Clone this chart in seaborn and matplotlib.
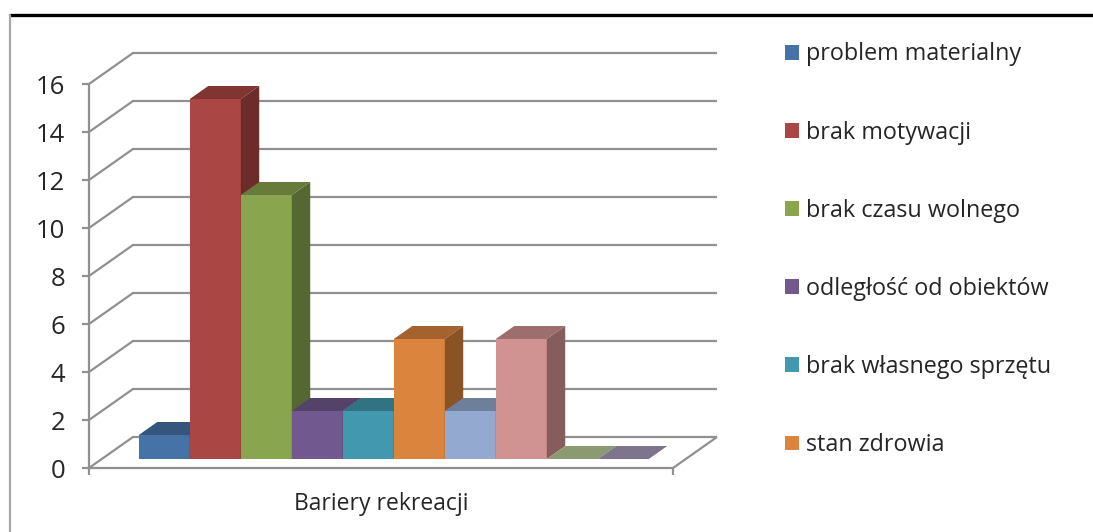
import matplotlib
matplotlib.use("Agg")
import matplotlib.pyplot as plt
import pandas as pd
import seaborn as sns
from matplotlib.colors import to_rgb
from matplotlib.lines import Line2D
from matplotlib.patches import Patch, Polygon
from matplotlib.transforms import Affine2D, IdentityTransform

# Survey answers: barriers to recreation
categories = [
    "problem materialny", "brak motywacji", "brak czasu wolnego",
    "odległość od obiektów", "brak własnego sprzętu", "stan zdrowia",
    "inne 1", "inne 2", "inne 3", "inne 4",
]
values = [1, 15, 11, 2, 2, 5, 2, 5, 0, 0]
colors = ["#4572A7", "#AA4643", "#89A54E", "#71588F", "#4198AF",
          "#DB843D", "#93A9CF", "#D19392", "#B9CD96", "#A99BBD"]
legend_count = 6
axis_label = "Bariery rekreacji"
y_ticks = list(range(0, 17, 2))

W, H = 1093, 532
GRID = "#909090"
TEXT = "#262626"
FONT = "Open Sans"

sns.set_theme(style="white")
plt.rcParams["font.family"] = [FONT, "DejaVu Sans"]

fig = plt.figure(figsize=(W / 100, H / 100), dpi=100, facecolor="white")
ax = fig.add_axes([89 / W, (H - 468) / H, 584 / W, 384 / H])
ax.patch.set_alpha(0)

df = pd.DataFrame({"os": [axis_label] * len(values), "bariera": categories, "n": values})
sns.barplot(data=df, x="os", y="n", hue="bariera", hue_order=categories,
            palette=colors, width=510 / 584, gap=0, saturation=1,
            legend=False, ax=ax, zorder=5)
ax.set_xlim(-0.5, 0.5)
ax.set_ylim(0, 16)


def project(x, y, rise=0.0):
    """Data point pushed back into the scene by `rise` pixels of depth."""
    px, py = ax.transData.transform((x, y))
    return (px + rise * 44 / 31, py + rise)


def scene_line(points):
    ax.add_line(Line2D(*zip(*points), transform=IdentityTransform(), color=GRID,
                       lw=1.6, clip_on=False, zorder=1, solid_capstyle="butt"))


# Back wall grid, side wall and floor edge
x0, x1 = ax.get_xlim()
for tick in y_ticks:
    scene_line([project(x0, tick), project(x0, tick, 31), project(x1, tick, 31)])
scene_line([project(x1, 0), project(x1, 0, 31)])


def shade(color, factor):
    return tuple(c * factor for c in to_rgb(color))


# Bars sit 9 px into the floor and are 13 px deep
BAR_RISE, BAR_DEPTH = 9, 13
bar_shift = Affine2D().translate(BAR_RISE * 44 / 31, BAR_RISE)
for i, (bar, color) in enumerate(zip(ax.patches, colors)):
    bar.set_transform(ax.transData + bar_shift)
    bar.set_clip_on(False)
    bar.set_edgecolor("none")
    bar.set_zorder(10 + i)
    left, right = bar.get_x(), bar.get_x() + bar.get_width()
    top = bar.get_height()
    a, b = BAR_RISE, BAR_RISE + BAR_DEPTH
    ax.add_patch(Polygon(
        [project(left, top, a), project(right, top, a),
         project(right, top, b), project(left, top, b)],
        closed=True, transform=IdentityTransform(), facecolor=shade(color, 0.75),
        edgecolor="none", clip_on=False, zorder=10 + i))
    if top > 0:
        ax.add_patch(Polygon(
            [project(right, 0, a), project(right, top, a),
             project(right, top, b), project(right, 0, b)],
            closed=True, transform=IdentityTransform(), facecolor=shade(color, 0.63),
            edgecolor="none", clip_on=False, zorder=10 + i))

# Axes
sns.despine(ax=ax, top=True, right=True)
for side in ("left", "bottom"):
    ax.spines[side].set_color(GRID)
    ax.spines[side].set_linewidth(1.6)
ax.set_yticks(y_ticks)
ax.set_xticks([x0, x1], ["", ""])
ax.tick_params(axis="both", direction="out", length=5, width=1.6, color=GRID,
               bottom=True, left=True, labelcolor=TEXT)
ax.tick_params(axis="y", labelsize=18.5, pad=12)
ax.set_ylabel("")
ax.set_xlabel(axis_label, fontsize=16.5, color=TEXT, labelpad=9)

# Legend shows the first entries only
handles = [Patch(facecolor=c, edgecolor="none") for c in colors[:legend_count]]
fig.legend(handles, categories[:legend_count], loc="upper left",
           bbox_to_anchor=(785 / W, 1 - 42.5 / H), frameon=False, fontsize=16.8,
           handlelength=0.6, handleheight=0.6, handletextpad=0.3,
           labelspacing=2.32, borderpad=0, borderaxespad=0, labelcolor=TEXT)

# Outer frame
fig.add_artist(Line2D([10 / W, 1], [1 - 14.5 / H] * 2, color="black", lw=2.4))
fig.add_artist(Line2D([10 / W] * 2, [0, 1 - 14.5 / H], color="#A8A8A8", lw=1.6))

fig.savefig("out.png", dpi=100)
